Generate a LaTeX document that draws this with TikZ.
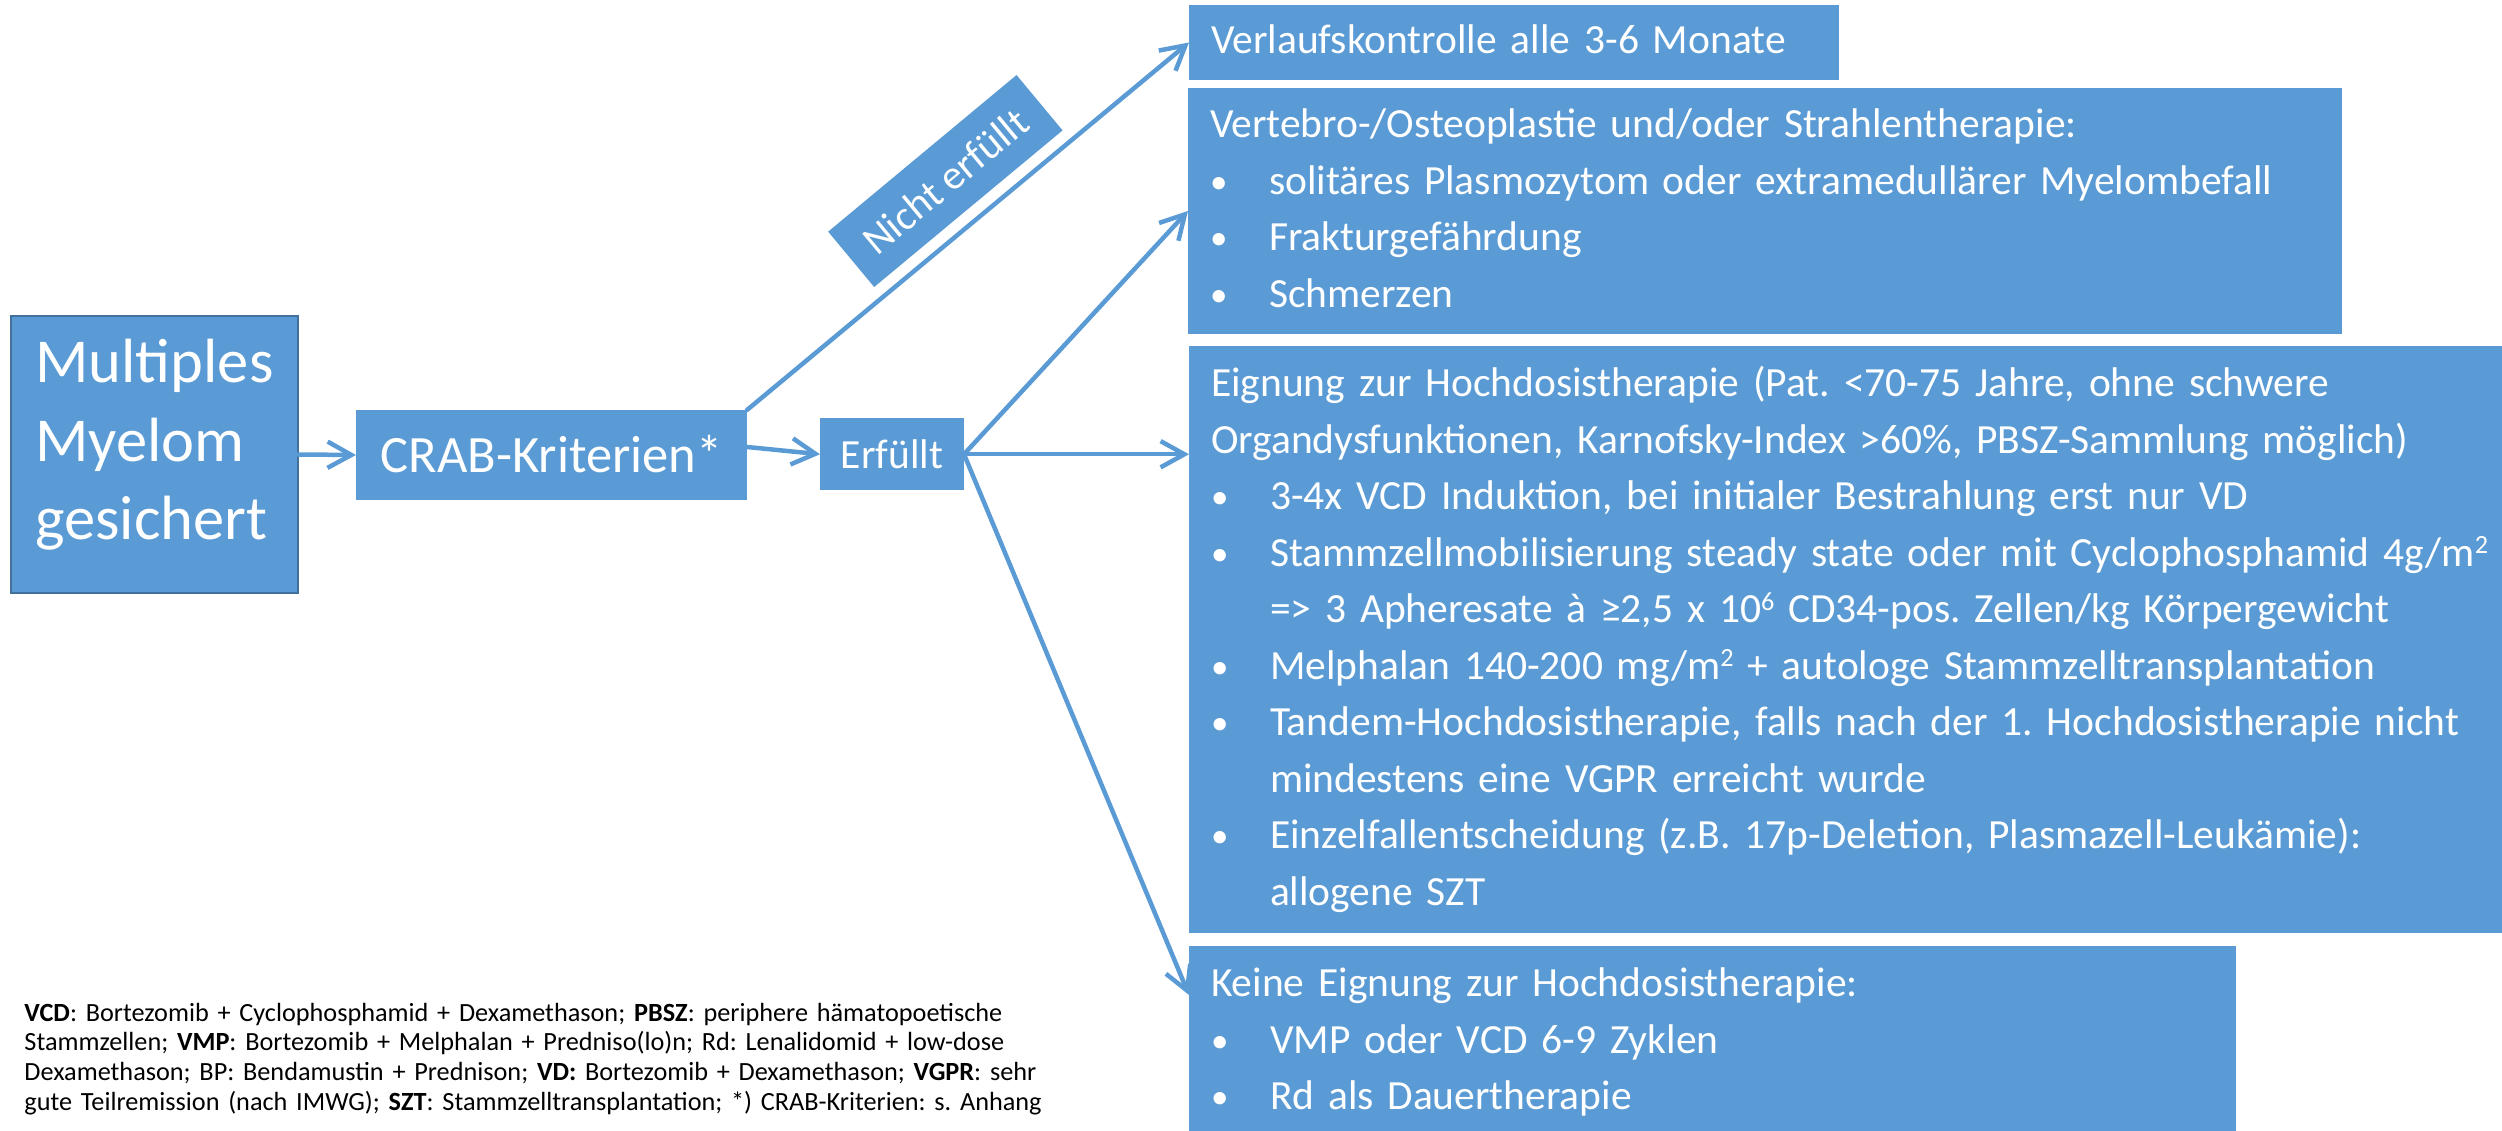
\documentclass[tikz,border=0pt]{standalone}
\usepackage{fontspec}
\setmainfont{Carlito}
\usetikzlibrary{arrows.meta}
\frenchspacing

\definecolor{kastenblau}{HTML}{5B9BD5}
\definecolor{randblau}{HTML}{41719C}

\newcommand{\bul}{\makebox[23.6pt][l]{\raisebox{0.4pt}{\fontsize{14}{12}\selectfont\textbullet}}}
\newcommand{\ein}{\hspace*{23.6pt}}
\newcommand{\hoch}[1]{\raisebox{0.62ex}{\fontsize{10.5}{10}\selectfont #1}}

\tikzset{
    kasten/.style={fill=kastenblau, text=white, anchor=north west, align=left,
        inner xsep=8.8pt, inner ysep=0pt, outer sep=0pt,
        font=\fontsize{16.6}{22.6}\selectfont,
        execute at begin node=\strut, execute at end node=\strut},
    pfeil/.style={draw=kastenblau, line width=1.8pt, line cap=round,
        -{Straight Barb[length=9.5pt,width=10.5pt]}},
}

\begin{document}
\begin{tikzpicture}[x=0.4pt, y=-0.4pt]

        \useasboundingbox (0,0) rectangle (2502,1131);

        \node[kasten, draw=randblau, line width=0.8pt, minimum width=114.8pt, minimum height=110.8pt,
            font=\fontsize{25}{31.4}\selectfont] (myelom) at (11,316)
            {Multiples\\Myelom\\gesichert\rule[-12pt]{0pt}{0pt}};

        \node[kasten, align=center, inner xsep=0pt, minimum width=156.4pt, minimum height=33.6pt,
            font=\fontsize{21}{36}\selectfont] (crab) at (356,410) {CRAB-Kriterien*};

        \node[kasten, align=center, inner xsep=0pt, minimum width=57.6pt, minimum height=28.4pt,
            font=\fontsize{16.6}{29}\selectfont] (erfuellt) at (820,418) {Erfüllt};

        \node[kasten, text width=242.4pt, minimum height=30pt] (verlauf) at (1189,5)
            {Verlaufskontrolle alle 3-6 Monate};

        \node[kasten, text width=444pt, minimum height=98.4pt] (vertebro) at (1188,88)
            {Vertebro-/Osteoplastie und/oder Strahlentherapie:\\
            \bul solitäres Plasmozytom oder extramedullärer Myelombefall\\
            \bul Frakturgefährdung\\
            \bul Schmerzen};

        \node[kasten, text width=514.4pt, minimum height=234.8pt] (eignung) at (1189,346)
            {Eignung zur Hochdosistherapie (Pat. <70-75 Jahre, ohne schwere\\
            Organdysfunktionen, Karnofsky-Index >60\%, PBSZ-Sammlung möglich)\\
            \bul 3-4x VCD Induktion, bei initialer Bestrahlung erst nur VD\\
            \bul Stammzellmobilisierung steady state oder mit Cyclophosphamid 4g/m\hoch{2}\\
            \ein => 3 Apheresate à ≥2,5 x 10\hoch{6} CD34-pos. Zellen/kg Körpergewicht\\
            \bul Melphalan 140-200 mg/m\hoch{2} + autologe Stammzelltransplantation\\
            \bul Tandem-Hochdosistherapie, falls nach der 1. Hochdosistherapie nicht\\
            \ein mindestens eine VGPR erreicht wurde\\
            \bul Einzelfallentscheidung (z.B. 17p-Deletion, Plasmazell-Leukämie):\\
            \ein allogene SZT};

        \node[kasten, text width=401.2pt, minimum height=76.9pt] (keine) at (1189,946)
            {Keine Eignung zur Hochdosistherapie:\\
            \bul VMP oder VCD 6-9 Zyklen\\
            \bul Rd als Dauertherapie};

        \coordinate (keinein) at (1189,995);

        \node[anchor=base west, align=left, inner sep=0pt, text width=440pt,
            font=\fontsize{10.5}{11.9}\selectfont] (legende) at (24,1021)
            {\textbf{VCD}: Bortezomib + Cyclophosphamid + Dexamethason; \textbf{PBSZ}: periphere hämatopoetische\\
            Stammzellen; \textbf{VMP}: Bortezomib + Melphalan + Predniso(lo)n; Rd: Lenalidomid + low-dose\\
            Dexamethason; BP: Bendamustin + Prednison; \textbf{VD:} Bortezomib + Dexamethason; \textbf{VGPR}: sehr\\
            gute Teilremission (nach IMWG); \textbf{SZT}: Stammzelltransplantation; *) CRAB-Kriterien: s. Anhang};

        % Pfeile
        \draw[pfeil] (myelom.east) -- (crab.west);
        \draw[pfeil] ([yshift=3.2pt]crab.east) -- (erfuellt.west);
        \draw[pfeil] (crab.north east) -- node[pos=0.52, sloped, above=4.4pt, fill=kastenblau, text=white,
            inner sep=0pt, minimum width=98pt, minimum height=28.8pt,
            font=\fontsize{16.6}{20}\selectfont] (nicht) {Nicht erfüllt} (verlauf.west);
        \draw[pfeil] (erfuellt.east) -- (vertebro.west);
        \draw[pfeil] (erfuellt.east) -- (erfuellt.east -| eignung.west);
        \draw[pfeil] (erfuellt.east) -- (keinein);

\end{tikzpicture}
\end{document}
